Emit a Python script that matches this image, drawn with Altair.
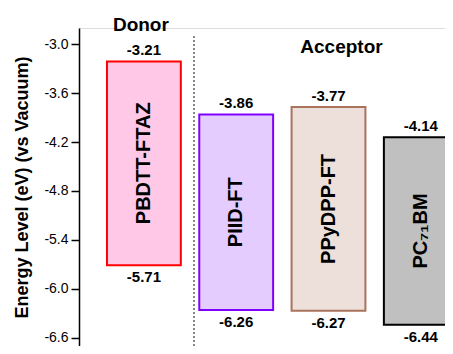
import altair as alt
import pandas as pd

# ---- data ----
materials = ["PBDTT-FTAZ", "PIID-FT", "PPyDPP-FT", "PC71BM"]
bar_labels = ["PBDTT-FTAZ", "PIID-FT", "PPyDPP-FT", "PC\u2087\u2081BM"]
lumo = [-3.21, -3.86, -3.77, -4.14]
homo = [-5.71, -6.26, -6.27, -6.44]
fill_colors = ["#FFC8E6", "#E5CCFF", "#EDE0DB", "#C0C0C0"]
stroke_colors = ["#FF0000", "#8000FF", "#A9735C", "#000000"]

groups = ["Donor", "Acceptor"]
group_anchor = ["PBDTT-FTAZ", "PPyDPP-FT"]
group_level = [-2.833, -3.11]

y_ticks = [-3.0, -3.3, -3.6, -3.9, -4.2, -4.5, -4.8, -5.1, -5.4, -5.7, -6.0, -6.3, -6.6]

df = pd.DataFrame({"material": materials, "label": bar_labels, "lumo": lumo, "homo": homo})
gdf = pd.DataFrame({"group": groups, "material": group_anchor, "level": group_level})

FONT = "Liberation Sans"
W, H = 366, 318

xscale = alt.Scale(domain=materials, range=[0, 406.7], paddingInner=0.2, paddingOuter=0.303)
yscale = alt.Scale(domain=[-6.702, -2.8], nice=False, zero=False)

x_enc = alt.X("material:N", scale=xscale, axis=None, sort=materials)

bars = alt.Chart(df).mark_bar(strokeWidth=2, clip=True).encode(
    x=x_enc,
    y=alt.Y("lumo:Q", scale=yscale, axis=alt.Axis(
        title="Energy Level (eV) (vs Vacuum)",
        values=y_ticks,
        labelExpr="round(datum.value*10) % 6 == 0 ? ((datum.value < 0 ? '-' : '') + format(abs(datum.value), '.1f')) : ''",
        tickSize={"condition": {"test": "round(datum.value*10) % 6 != 0", "value": 4}, "value": 8},
        tickColor="#000", tickWidth=1.5, domainColor="#000", domainWidth=1.5,
        labelFont=FONT, labelFontSize=14, labelColor="#000", labelPadding=3,
        titleFont=FONT, titleFontSize=18, titleFontWeight="bold", titleColor="#000",
        titlePadding=12, grid=False,
    )),
    y2="homo:Q",
    fill=alt.Fill("material:N", scale=alt.Scale(domain=materials, range=fill_colors), legend=None),
    stroke=alt.Stroke("material:N", scale=alt.Scale(domain=materials, range=stroke_colors), legend=None),
)

top_text = alt.Chart(df).transform_calculate(
    t="(datum.lumo < 0 ? '-' : '') + format(abs(datum.lumo), '.2f')"
).mark_text(font=FONT, fontSize=15, fontWeight="bold", baseline="alphabetic", dy=-6, color="#000").encode(
    x=x_enc, y=alt.Y("lumo:Q", scale=yscale), text="t:N"
)

bot_text = alt.Chart(df).transform_calculate(
    t="(datum.homo < 0 ? '-' : '') + format(abs(datum.homo), '.2f')"
).mark_text(font=FONT, fontSize=15, fontWeight="bold", baseline="top", dy=5, color="#000").encode(
    x=x_enc, y=alt.Y("homo:Q", scale=yscale), text="t:N"
)

name_text = alt.Chart(df).transform_calculate(
    mid="(datum.lumo + datum.homo) / 2"
).mark_text(font=FONT, fontSize=20, fontWeight="bold", angle=270, baseline="middle", align="center", color="#000").encode(
    x=x_enc, y=alt.Y("mid:Q", scale=yscale), text="label:N"
)

donor_text = alt.Chart(gdf).transform_filter("datum.group == 'Donor'").mark_text(
    font=FONT, fontSize=19, fontWeight="bold", baseline="alphabetic", color="#000", dx=-3
).encode(x=x_enc, y=alt.Y("level:Q", scale=yscale), text="group:N")

acc_text = alt.Chart(gdf).transform_filter("datum.group == 'Acceptor'").mark_text(
    font=FONT, fontSize=19, fontWeight="bold", baseline="alphabetic", color="#000", dx=13
).encode(x=x_enc, y=alt.Y("level:Q", scale=yscale), text="group:N")

sep = alt.Chart(gdf).mark_rule(color="#808080", strokeDash=[2, 2], strokeWidth=1.5).encode(
    x=alt.value(115), y=alt.value(8), y2=alt.value(H)
)

chart = alt.layer(sep, bars, top_text, bot_text, name_text, donor_text, acc_text).properties(
    width=W, height=H,
    autosize=alt.AutoSizeParams(type="none"),
    padding={"left": 71, "top": 20, "right": 0, "bottom": 0},
).configure_view(stroke=None).configure(background="white")

chart.save("out.html", embed_options={"renderer": "svg", "actions": False})
